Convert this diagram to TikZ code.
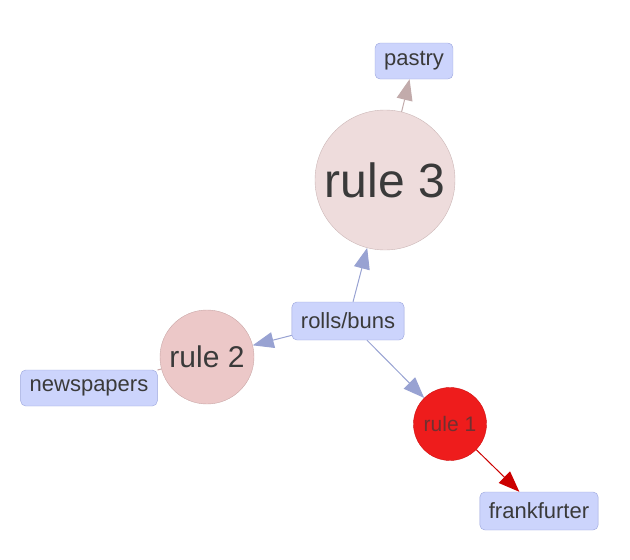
\documentclass[tikz,border=0pt]{standalone}
\usepackage{fontspec}
\setmainfont{Liberation Sans}
\usetikzlibrary{arrows.meta}
\definecolor{itemfill}{HTML}{CCD4FC}
\definecolor{itemdraw}{HTML}{9AA4DC}
\definecolor{itemedge}{HTML}{98A2D2}
\definecolor{rulethree}{HTML}{EEDCDC}
\definecolor{rulethreedraw}{HTML}{CBB6B6}
\definecolor{rulethreeedge}{HTML}{C2ABAB}
\definecolor{ruletwo}{HTML}{ECC8C8}
\definecolor{ruletwodraw}{HTML}{C9A6A6}
\definecolor{ruleone}{HTML}{EE1C1C}
\definecolor{ruleonedraw}{HTML}{D01010}
\definecolor{ruleoneedge}{HTML}{CC0000}
\definecolor{txt}{HTML}{3A3A3A}

\begin{document}
\begin{tikzpicture}[x=1pt,y=-1pt,
    item/.style={rectangle,rounded corners=5pt,draw=itemdraw,fill=itemfill,
        text=txt,font=\fontsize{22}{22}\selectfont,minimum height=36pt,inner xsep=9pt},
    rulenode/.style={circle,draw,inner sep=0pt,text=txt},
    link/.style={line width=1pt,-{Triangle[length=21pt,width=16pt]}}]

    %\draw [help lines] (0,0) grid (630,560);
    \useasboundingbox (0,0) rectangle (630,560);

    \path   (414,61)  node (pastry) [item] {pastry}
            (385,180) node (r3) [rulenode,draw=rulethreedraw,fill=rulethree,minimum size=140pt,
                font=\fontsize{48}{48}\selectfont] {rule 3}
            (348,321) node (rolls) [item,minimum height=38pt] {rolls/buns}
            (207,357) node (r2) [rulenode,draw=ruletwodraw,fill=ruletwo,minimum size=94pt,
                font=\fontsize{30}{30}\selectfont] {rule 2}
            (89,388)  node (news) [item] {newspapers}
            (450,424) node (r1) [rulenode,draw=ruleonedraw,fill=ruleone,minimum size=73pt,
                font=\fontsize{21}{21}\selectfont,text=txt!70!ruleone] {rule 1}
            (539,511) node (frank) [item,minimum height=38pt] {frankfurter};

    \draw[link,itemedge] (rolls) -- (r3);
    \draw[link,itemedge] (rolls) -- (r2);
    \draw[link,itemedge] (rolls) -- (r1);
    \draw[line width=1pt,ruletwodraw] (r2) -- (news);
    \draw[link,rulethreeedge] (r3) -- (pastry);
    \draw[link,ruleoneedge] (r1) -- (frank);
\end{tikzpicture}
\end{document}
